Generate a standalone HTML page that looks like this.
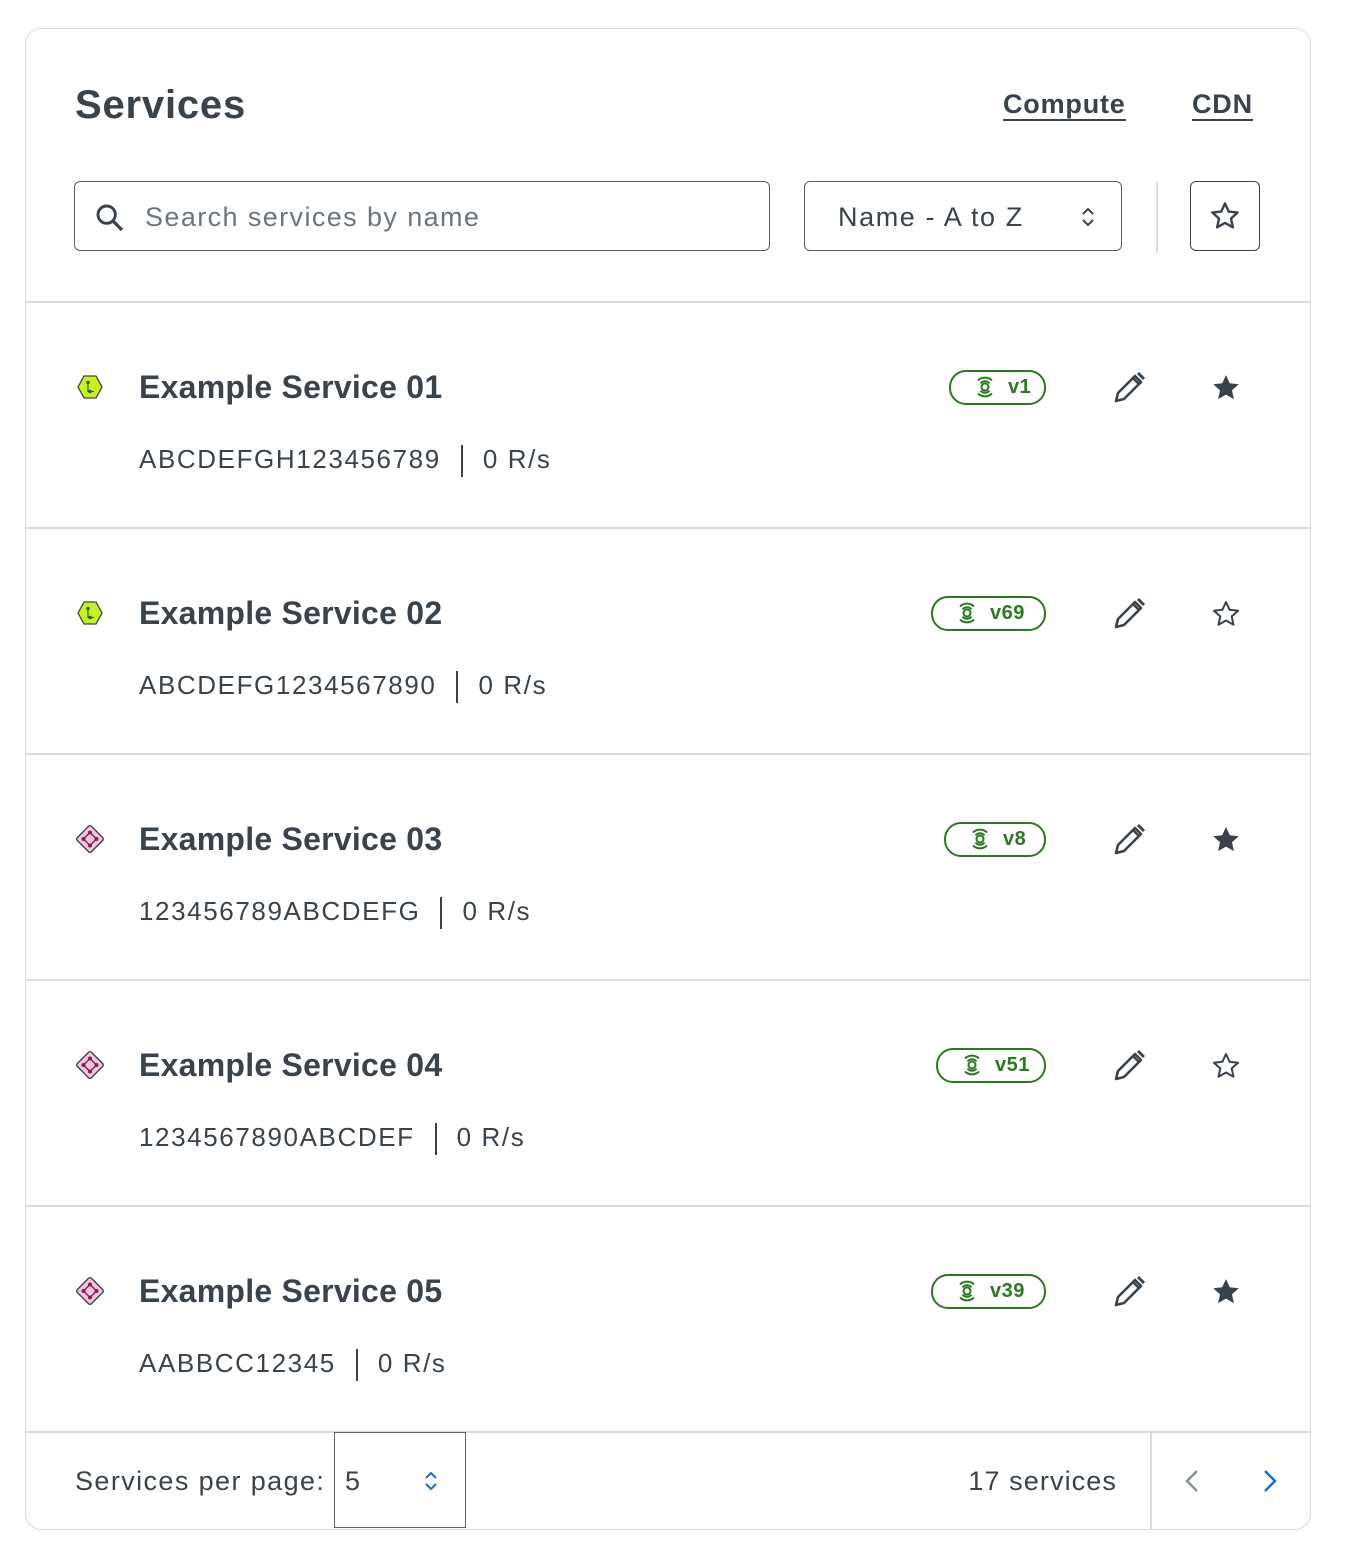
<!DOCTYPE html><html><head><style>
body{margin:0;width:1346px;height:1560px;background:#fff;font-family:"Liberation Sans",sans-serif;color:#3a434b;position:relative;overflow:hidden}
.a{position:absolute}
.card{left:25px;top:28px;width:1284px;height:1500px;border:1.5px solid #d9dcdf;border-radius:16px}
.hr{left:26px;width:1284px;height:1.5px;background:#d9dcdf}
.t{font-size:32px;font-weight:bold;left:139px;line-height:40px;letter-spacing:0.25px}
.s{font-size:26px;left:139px;line-height:32px;letter-spacing:1.6px}
.bar{display:inline-block;width:2px;height:32px;background:#3a434b;vertical-align:middle;margin:0 20px 0 20px}
.badge{height:31px;border:2px solid #2b7a1f;border-radius:17px;color:#2b7a1f;font-weight:bold;font-size:20px;line-height:31px;box-sizing:content-box;letter-spacing:0.5px}
</style></head><body>
<div class="a card"></div>
<div class="a" style="left:75px;top:82px;font-size:40px;font-weight:bold;line-height:46px;letter-spacing:0.8px">Services</div>
<div class="a" style="left:1003px;top:89px;font-size:27px;font-weight:bold;border-bottom:2px solid #3a434b;line-height:30px;letter-spacing:0.8px">Compute</div>
<div class="a" style="left:1192px;top:89px;font-size:27px;font-weight:bold;border-bottom:2px solid #3a434b;line-height:30px;letter-spacing:0.8px">CDN</div>
<div class="a" style="left:74px;top:181px;width:694px;height:68px;border:1.5px solid #56616b;border-radius:6px"></div>
<svg class="a" style="left:94px;top:202px" width="32" height="32" viewBox="0 0 24 24"><circle cx="9.5" cy="9.5" r="6.5" fill="none" stroke="#3a434b" stroke-width="2.2"/><line x1="14" y1="14" x2="21" y2="21" stroke="#3a434b" stroke-width="2.5"/></svg>
<div class="a" style="left:145px;top:200px;font-size:27px;color:#6b757e;line-height:34px;letter-spacing:1.4px">Search services by name</div>
<div class="a" style="left:804px;top:181px;width:316px;height:68px;border:1.5px solid #56616b;border-radius:6px"></div>
<div class="a" style="left:838px;top:200px;font-size:27px;line-height:34px;letter-spacing:1.6px">Name - A to Z</div>
<svg class="a" style="left:1078px;top:205px" width="20" height="24" viewBox="0 0 20 24"><path d="M5 9l5-5 5 5M5 15l5 5 5-5" fill="none" stroke="#3a434b" stroke-width="2"/></svg>
<div class="a" style="left:1156px;top:182px;width:1.5px;height:70px;background:#d9dcdf"></div>
<div class="a" style="left:1190px;top:181px;width:68px;height:68px;border:1.5px solid #3a434b;border-radius:6px"></div>
<svg class="a" style="left:1209px;top:200px" width="32" height="32" viewBox="0 0 24 24"><path d="M12 2.5l2.8 6.2 6.7.7-5 4.5 1.4 6.6L12 17.2 6.1 20.5l1.4-6.6-5-4.5 6.7-.7z" fill="none" stroke="#3a434b" stroke-width="1.8" stroke-linejoin="round"/></svg>
<div class="a hr" style="top:301px"></div>
<div class="a hr" style="top:527px"></div>
<div class="a hr" style="top:753px"></div>
<div class="a hr" style="top:979px"></div>
<div class="a hr" style="top:1205px"></div>
<div class="a hr" style="top:1431px"></div>

<svg width="0" height="0" style="position:absolute"><defs>
<g id="hex"><polygon points="4,16 10,5 22,5 28,16 22,27 10,27" fill="#c9f025" stroke="#3a434b" stroke-width="1.3"/><circle cx="14" cy="11.5" r="1.8" fill="#2a6b2a"/><circle cx="16" cy="20.5" r="1.8" fill="#2a6b2a"/><path d="M14 12v8.5h6" fill="none" stroke="#2a6b2a" stroke-width="1.2"/></g>
<g id="dia"><rect x="6" y="6" width="20" height="20" rx="2" transform="rotate(45 16 16)" fill="#f5c6df" stroke="#3a434b" stroke-width="1.4"/><path d="M16 9.5l6.5 6.5-6.5 6.5-6.5-6.5z" fill="none" stroke="#8a1b52" stroke-width="1.4"/><circle cx="16" cy="9.5" r="2" fill="#8a1b52"/><circle cx="22.5" cy="16" r="2" fill="#8a1b52"/><circle cx="16" cy="22.5" r="2" fill="#8a1b52"/><circle cx="9.5" cy="16" r="2" fill="#8a1b52"/></g>
<g id="pen"><path d="M3 31l2-8L22 6l6 6L11 29z" fill="none" stroke="#3a434b" stroke-width="2.6" stroke-linejoin="round"/><path d="M24 4l2-2 6 6-2 2z" fill="#3a434b"/><path d="M20 8l6 6" stroke="#3a434b" stroke-width="2.6"/></g>
<g id="sf"><path d="M16 3l3.8 8.3 9 .9-6.8 6 1.9 8.9L16 22.6 8.1 27.1l1.9-8.9-6.8-6 9-.9z" fill="#3a434b"/></g>
<g id="so"><path d="M16 4l3.6 7.8 8.5.9-6.4 5.7 1.8 8.4L16 22.5l-7.5 4.3 1.8-8.4-6.4-5.7 8.5-.9z" fill="none" stroke="#3a434b" stroke-width="2" stroke-linejoin="round"/></g>
<g id="wifi"><circle cx="12" cy="13" r="3.5" fill="none" stroke="#2b7a1f" stroke-width="2"/><path d="M5 6.5a10 10 0 0 1 14 0M7.5 9.3a6 6 0 0 1 9 0M5 19.5a10 10 0 0 0 14 0M7.5 16.7a6 6 0 0 0 9 0" fill="none" stroke="#2b7a1f" stroke-width="2"/></g>
</defs></svg>

<svg class="a" style="left:74px;top:371px" width="32" height="32"><use href="#hex"/></svg>
<div class="a t" style="top:367px">Example Service 01</div>
<div class="a s" style="top:443px">ABCDEFGH123456789<span class="bar"></span>0 R/s</div>
<div class="a badge" style="left:949px;top:370px;width:93px"><svg style="position:absolute;left:22px;top:2px" width="24" height="26"><use href="#wifi"/></svg><span style="position:absolute;left:57px">v1</span></div>
<svg class="a" style="left:1113px;top:370px" width="34" height="34"><use href="#pen"/></svg>
<svg class="a" style="left:1210px;top:372px" width="32" height="32"><use href="#sf"/></svg>

<svg class="a" style="left:74px;top:597px" width="32" height="32"><use href="#hex"/></svg>
<div class="a t" style="top:593px">Example Service 02</div>
<div class="a s" style="top:669px">ABCDEFG1234567890<span class="bar"></span>0 R/s</div>
<div class="a badge" style="left:931px;top:596px;width:111px"><svg style="position:absolute;left:22px;top:2px" width="24" height="26"><use href="#wifi"/></svg><span style="position:absolute;left:57px">v69</span></div>
<svg class="a" style="left:1113px;top:596px" width="34" height="34"><use href="#pen"/></svg>
<svg class="a" style="left:1210px;top:598px" width="32" height="32"><use href="#so"/></svg>

<svg class="a" style="left:74px;top:823px" width="32" height="32"><use href="#dia"/></svg>
<div class="a t" style="top:819px">Example Service 03</div>
<div class="a s" style="top:895px">123456789ABCDEFG<span class="bar"></span>0 R/s</div>
<div class="a badge" style="left:944px;top:822px;width:98px"><svg style="position:absolute;left:22px;top:2px" width="24" height="26"><use href="#wifi"/></svg><span style="position:absolute;left:57px">v8</span></div>
<svg class="a" style="left:1113px;top:822px" width="34" height="34"><use href="#pen"/></svg>
<svg class="a" style="left:1210px;top:824px" width="32" height="32"><use href="#sf"/></svg>

<svg class="a" style="left:74px;top:1049px" width="32" height="32"><use href="#dia"/></svg>
<div class="a t" style="top:1045px">Example Service 04</div>
<div class="a s" style="top:1121px">1234567890ABCDEF<span class="bar"></span>0 R/s</div>
<div class="a badge" style="left:936px;top:1048px;width:106px"><svg style="position:absolute;left:22px;top:2px" width="24" height="26"><use href="#wifi"/></svg><span style="position:absolute;left:57px">v51</span></div>
<svg class="a" style="left:1113px;top:1048px" width="34" height="34"><use href="#pen"/></svg>
<svg class="a" style="left:1210px;top:1050px" width="32" height="32"><use href="#so"/></svg>

<svg class="a" style="left:74px;top:1275px" width="32" height="32"><use href="#dia"/></svg>
<div class="a t" style="top:1271px">Example Service 05</div>
<div class="a s" style="top:1347px">AABBCC12345<span class="bar"></span>0 R/s</div>
<div class="a badge" style="left:931px;top:1274px;width:111px"><svg style="position:absolute;left:22px;top:2px" width="24" height="26"><use href="#wifi"/></svg><span style="position:absolute;left:57px">v39</span></div>
<svg class="a" style="left:1113px;top:1274px" width="34" height="34"><use href="#pen"/></svg>
<svg class="a" style="left:1210px;top:1276px" width="32" height="32"><use href="#sf"/></svg>

<div class="a" style="left:75px;top:1465px;font-size:27px;line-height:32px;letter-spacing:1.4px">Services per page:</div>
<div class="a" style="left:334px;top:1432px;width:130px;height:94px;border:1.5px solid #56616b"></div>
<div class="a" style="left:345px;top:1465px;font-size:27px;line-height:32px">5</div>
<svg class="a" style="left:421px;top:1469px" width="20" height="24" viewBox="0 0 20 24"><path d="M5 9l5-5 5 5M5 15l5 5 5-5" fill="none" stroke="#1a6fd1" stroke-width="2"/></svg>
<div class="a" style="right:229px;top:1465px;font-size:27px;line-height:32px;letter-spacing:1.1px">17 services</div>
<div class="a" style="left:1150px;top:1432px;width:1.5px;height:97px;background:#d9dcdf"></div>
<svg class="a" style="left:1180px;top:1467px" width="24" height="28"><path d="M17 4l-10 10 10 10" fill="none" stroke="#8a939b" stroke-width="2.5"/></svg>
<svg class="a" style="left:1258px;top:1467px" width="24" height="28"><path d="M7 4l10 10-10 10" fill="none" stroke="#1a6fd1" stroke-width="2.5"/></svg>
</body></html>
